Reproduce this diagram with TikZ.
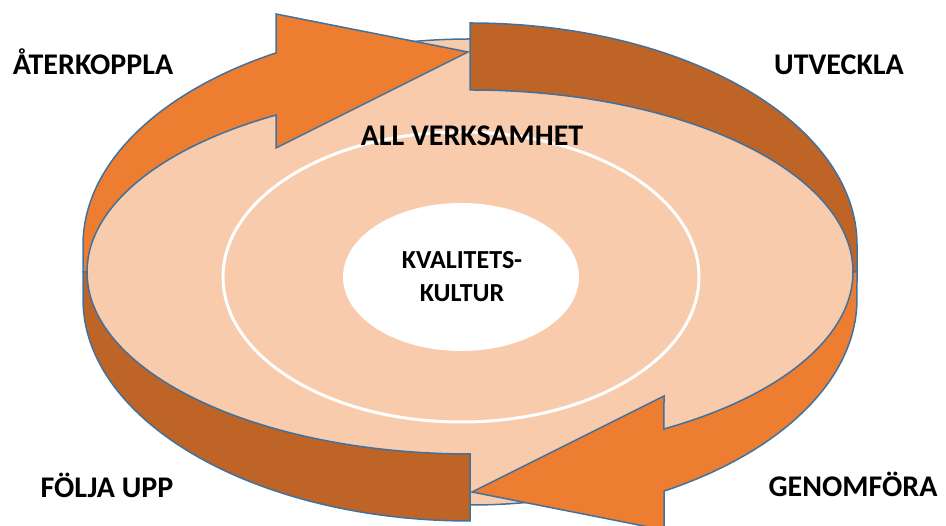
\documentclass[tikz,border=0pt]{standalone}
\usepackage{fontspec}
\setmainfont{Carlito}
\definecolor{orng}{HTML}{ED7D31}
\definecolor{brwn}{HTML}{BE6427}
\definecolor{peach}{HTML}{F8CBAD}
\definecolor{edgeblue}{HTML}{41719C}
\begin{document}
\begin{tikzpicture}[x=1pt,y=1pt,
  band/.style={draw=edgeblue, line width=1.5pt, line join=miter},
  lbl/.style={font=\fontsize{30}{36}\selectfont\bfseries, anchor=base, inner sep=0pt, text=black},
  ctr/.style={font=\fontsize{26}{33}\selectfont\bfseries, anchor=base, inner sep=0pt, text=black}]
\useasboundingbox (0,0) rectangle (946,526);
\clip (0,0) rectangle (946,526);
% flat disc
\draw[band, fill=peach] (470,254) ellipse [x radius=383, y radius=233];
\draw[white, line width=3pt] (461,249) ellipse [x radius=238, y radius=145];
\fill[white] (461,249) ellipse [x radius=118, y radius=74];
% two twisted arrows
\foreach \r in {0,180} {
\begin{scope}[rotate around={\r:(470,254)}]
  \draw[band, fill=brwn] (470,503)
     arc[start angle=90, end angle=0, x radius=387, y radius=222]
     -- (857,254) -- (853,254)
     arc[start angle=0, end angle=90, x radius=383, y radius=182] -- cycle;
  \draw[band, fill=orng] (87,254)
     arc[start angle=180, end angle=120.43, x radius=383, y radius=182]
     -- (276,378) -- (468,474) -- (276,512) -- (276,473.1)
     arc[start angle=120.09, end angle=180, x radius=387, y radius=222]
     -- (83,254) -- cycle;
\end{scope}
}
% labels
\node[lbl] (all) at (472,380) {ALL VERKSAMHET};
\node[ctr] (k1) at (462,257) {KVALITETS-};
\node[ctr] (k2) at (462,224) {KULTUR};
\node[lbl] (aterk) at (93,451) {ÅTERKOPPLA};
\node[lbl] (utv) at (839,451) {UTVECKLA};
\node[lbl] (folja) at (107,28) {FÖLJA UPP};
\node[lbl] (genom) at (853,29) {GENOMFÖRA};
\end{tikzpicture}
\end{document}
